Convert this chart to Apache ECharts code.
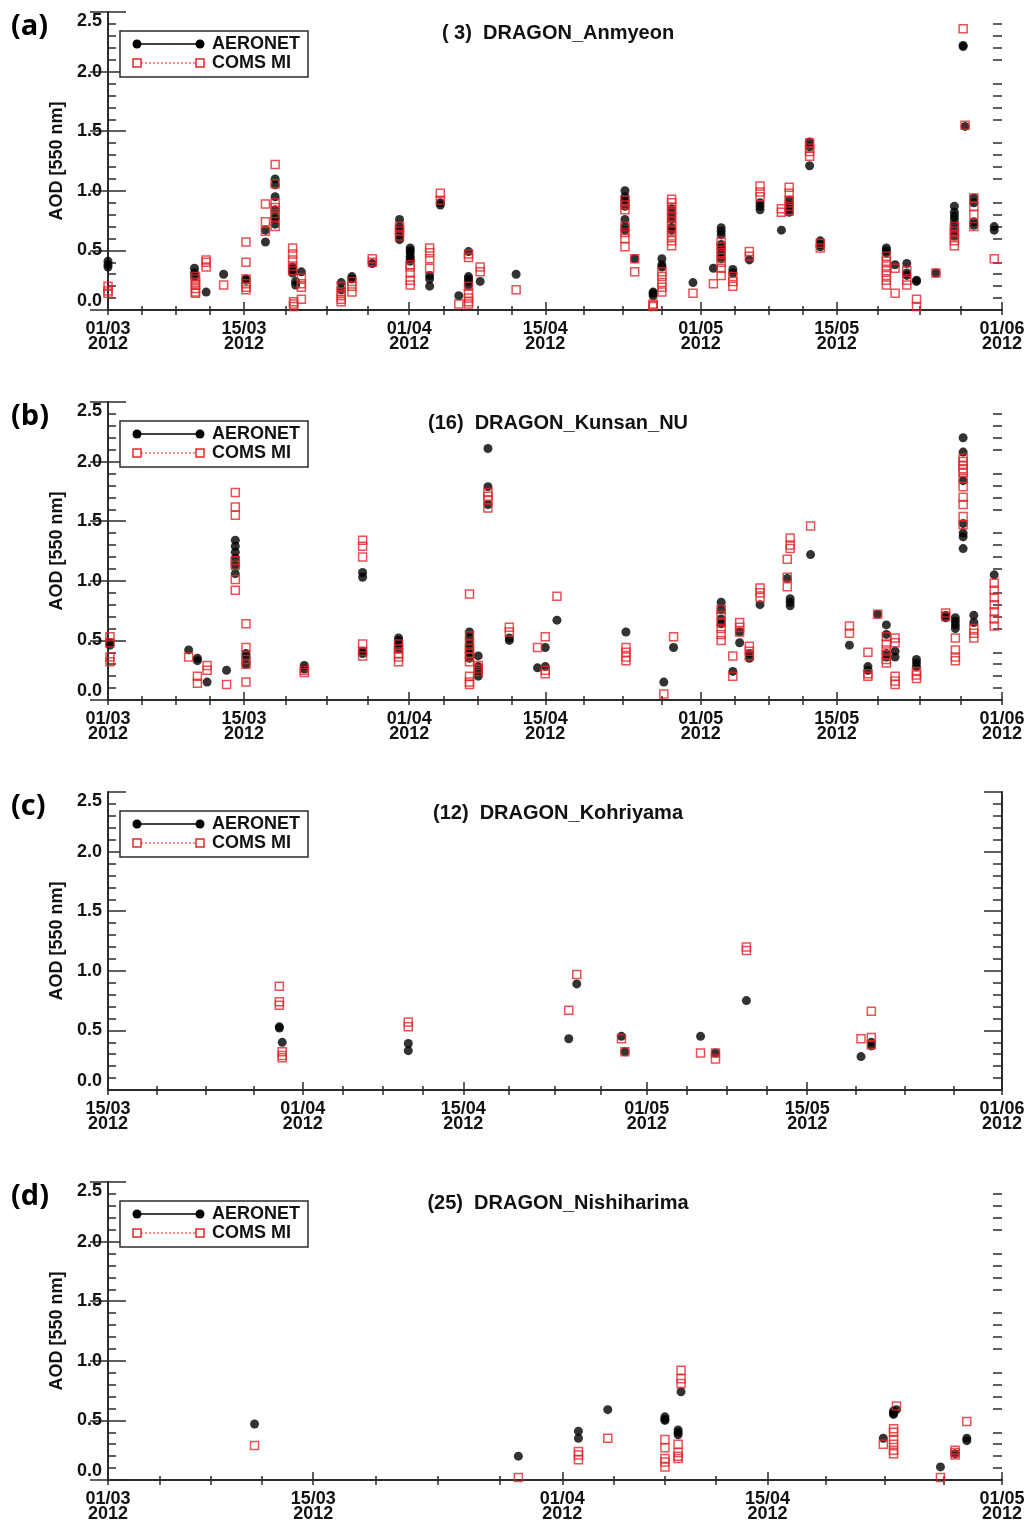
<!DOCTYPE html>
<html>
<head>
<meta charset="utf-8">
<script src="https://cdn.jsdelivr.net/npm/echarts@6/dist/echarts.min.js"></script>
<style>
  html, body { margin: 0; padding: 0; background: #fff; }
  #chart { width: 1030px; height: 1522px; }
</style>
</head>
<body>
<div id="chart"></div>
<script>
// x = days since 01/03/2012, each row = [day, aod, aod, ...]
const dateTicks = [0, 14, 31, 45, 61, 75, 92];
const dateLabels = ['01/03\n2012', '15/03\n2012', '01/04\n2012', '15/04\n2012', '01/05\n2012', '15/05\n2012', '01/06\n2012'];
const aodTicks = [0, 0.5, 1.0, 1.5, 2.0, 2.5];

const anmyeonAeronet = [
  [0.0, 0.41, 0.38, 0.36], [8.9, 0.35, 0.31, 0.28], [10.1, 0.15], [11.9, 0.30], [14.2, 0.26, 0.25],
  [16.2, 0.67, 0.57], [17.2, 1.10, 1.05, 0.95, 0.84, 0.78, 0.76, 0.72], [19.0, 0.36, 0.34, 0.31],
  [19.3, 0.24, 0.21], [19.9, 0.32], [24.0, 0.23, 0.17], [25.1, 0.28, 0.26], [27.2, 0.39],
  [30.0, 0.76, 0.70, 0.67, 0.62, 0.59], [31.1, 0.52, 0.50, 0.48, 0.45, 0.43, 0.41], [33.1, 0.29, 0.26, 0.20],
  [34.2, 0.90, 0.88], [36.1, 0.12], [37.1, 0.49, 0.28, 0.26, 0.24, 0.21], [38.3, 0.24], [42.0, 0.30],
  [53.2, 1.00, 0.95, 0.92, 0.87, 0.76, 0.70, 0.67], [54.2, 0.43], [56.1, 0.15, 0.14, 0.12],
  [57.0, 0.43, 0.38, 0.36], [58.0, 0.85, 0.80, 0.76, 0.69, 0.67], [60.2, 0.23], [62.3, 0.35],
  [63.1, 0.69, 0.66, 0.63, 0.55, 0.52, 0.48, 0.43], [64.3, 0.34, 0.31], [66.0, 0.42], [67.1, 0.90, 0.87, 0.84],
  [69.3, 0.67], [70.1, 0.92, 0.88, 0.85, 0.82], [72.2, 1.41, 1.37, 1.21], [73.3, 0.58, 0.55, 0.53],
  [80.1, 0.52, 0.50, 0.48], [81.0, 0.38], [82.2, 0.39, 0.31, 0.29], [83.2, 0.25, 0.24], [85.2, 0.31],
  [87.1, 0.87, 0.82, 0.79, 0.76, 0.72, 0.67, 0.62], [88.0, 2.22, 2.21], [88.2, 1.54],
  [89.1, 0.94, 0.90, 0.74, 0.71], [91.2, 0.70, 0.67]
];
const anmyeonComs = [
  [0.0, 0.20, 0.16, 0.14], [9.0, 0.28, 0.26, 0.23, 0.21, 0.18, 0.15, 0.14], [10.1, 0.42, 0.40, 0.36],
  [11.9, 0.21], [14.2, 0.57, 0.40, 0.26, 0.22, 0.19, 0.17], [16.2, 0.89, 0.74, 0.66],
  [17.2, 1.22, 1.06, 0.90, 0.86, 0.81, 0.78, 0.70], [19.0, 0.52, 0.47, 0.42, 0.37, 0.33],
  [19.1, 0.07, 0.05, 0.03], [19.9, 0.27, 0.22, 0.19, 0.09], [24.0, 0.20, 0.15, 0.12, 0.09, 0.07],
  [25.1, 0.24, 0.20, 0.15], [27.2, 0.43, 0.40], [30.0, 0.70, 0.66, 0.62], [31.1, 0.38, 0.36, 0.31, 0.25, 0.21],
  [33.1, 0.52, 0.48, 0.43, 0.35], [34.2, 0.98, 0.92], [36.1, 0.05], [37.1, 0.47, 0.44, 0.20, 0.14, 0.10, 0.07, 0.05],
  [38.3, 0.36, 0.32], [42.0, 0.17], [53.2, 0.92, 0.88, 0.84, 0.70, 0.65, 0.60, 0.53], [54.2, 0.43, 0.32],
  [56.1, 0.05, 0.04, 0.03], [57.0, 0.32, 0.28, 0.23, 0.19, 0.15],
  [58.0, 0.93, 0.90, 0.86, 0.82, 0.78, 0.74, 0.70, 0.66, 0.62, 0.58, 0.54], [60.2, 0.14], [62.3, 0.22],
  [63.1, 0.57, 0.53, 0.48, 0.44, 0.40, 0.35, 0.29], [64.3, 0.28, 0.24, 0.20], [66.0, 0.49, 0.45],
  [67.1, 1.04, 0.99, 0.95], [69.3, 0.85, 0.82], [70.1, 1.03, 0.98, 0.92, 0.87, 0.83], [72.2, 1.40, 1.36, 1.33, 1.29],
  [73.3, 0.56, 0.52], [80.1, 0.45, 0.41, 0.37, 0.33, 0.29, 0.25, 0.21], [81.0, 0.35, 0.14], [82.2, 0.33, 0.25, 0.21],
  [83.2, 0.09, 0.03], [85.2, 0.31], [87.1, 0.70, 0.66, 0.62, 0.58, 0.54], [88.0, 2.36], [88.2, 1.55],
  [89.1, 0.94, 0.87, 0.80, 0.70], [91.2, 0.43]
];

const kunsanAeronet = [
  [0.2, 0.48, 0.46], [8.3, 0.42], [9.2, 0.35, 0.33], [10.2, 0.15], [12.2, 0.25],
  [13.1, 1.34, 1.29, 1.24, 1.19, 1.13, 1.06], [14.2, 0.39, 0.36, 0.30], [20.2, 0.29, 0.26],
  [26.2, 1.07, 1.03, 0.41, 0.39], [29.9, 0.52, 0.50, 0.47, 0.43], [37.2, 0.57, 0.52, 0.47, 0.43, 0.40, 0.35],
  [38.1, 0.37, 0.28, 0.24, 0.20], [39.1, 2.11, 1.79, 1.64], [41.3, 0.52, 0.50], [44.2, 0.27], [45.0, 0.44, 0.28],
  [46.2, 0.67], [53.3, 0.57], [57.2, 0.15], [58.2, 0.44], [63.1, 0.82, 0.76, 0.68, 0.64], [64.3, 0.24],
  [65.0, 0.57, 0.48], [66.0, 0.39, 0.35], [67.1, 0.80], [69.9, 1.02], [70.2, 0.85, 0.82, 0.79], [72.3, 1.22],
  [76.3, 0.46], [78.2, 0.28, 0.25], [79.2, 0.72], [80.1, 0.63, 0.55, 0.39, 0.36], [81.0, 0.41, 0.36],
  [83.2, 0.34, 0.31, 0.28], [86.2, 0.71, 0.69], [87.2, 0.69, 0.66, 0.63, 0.60],
  [88.0, 2.20, 2.08, 1.84, 1.48, 1.40, 1.37, 1.27], [89.1, 0.71, 0.65], [91.2, 1.05]
];
const kunsanComs = [
  [0.2, 0.53, 0.48, 0.36, 0.32], [8.3, 0.36], [9.2, 0.20, 0.14], [10.2, 0.29, 0.25], [12.2, 0.13],
  [13.1, 1.74, 1.62, 1.55, 1.17, 1.13, 1.01, 0.92], [14.2, 0.64, 0.44, 0.34, 0.30, 0.15], [20.2, 0.25, 0.23],
  [26.2, 1.34, 1.29, 1.20, 0.47, 0.41, 0.37], [29.9, 0.47, 0.43, 0.39, 0.36, 0.32],
  [37.2, 0.89, 0.54, 0.47, 0.43, 0.39, 0.36, 0.32, 0.20, 0.15, 0.13], [38.1, 0.29, 0.26, 0.24],
  [39.1, 1.74, 1.71, 1.68, 1.61], [41.3, 0.61, 0.57], [44.2, 0.44], [45.0, 0.53, 0.25, 0.22], [46.2, 0.87],
  [53.3, 0.44, 0.40, 0.36, 0.33], [57.2, 0.05], [58.2, 0.53], [63.1, 0.76, 0.71, 0.65, 0.60, 0.55, 0.50],
  [64.3, 0.37, 0.20], [65.0, 0.65, 0.61, 0.57], [66.0, 0.45, 0.41, 0.37], [67.1, 0.94, 0.90, 0.86],
  [69.9, 1.18, 1.03, 0.95], [70.2, 1.36, 1.30, 1.27], [72.3, 1.46], [76.3, 0.62, 0.56], [78.2, 0.40, 0.22, 0.20],
  [79.2, 0.72], [80.1, 0.53, 0.47, 0.42, 0.38, 0.34, 0.31], [81.0, 0.52, 0.48, 0.20, 0.16, 0.13],
  [83.2, 0.24, 0.21, 0.18], [86.2, 0.73, 0.70], [87.2, 0.52, 0.42, 0.36, 0.33],
  [88.0, 2.03, 2.00, 1.97, 1.94, 1.91, 1.86, 1.79, 1.70, 1.64, 1.54, 1.47], [89.1, 0.60, 0.56, 0.52],
  [91.2, 0.98, 0.92, 0.86, 0.80, 0.74, 0.68, 0.62]
];

const kohriyamaAeronet = [
  [28.95, 0.53, 0.52], [29.2, 0.40], [40.2, 0.39, 0.33], [54.2, 0.43], [54.9, 0.89], [58.8, 0.45],
  [59.1, 0.32], [65.7, 0.45], [67.0, 0.31], [69.7, 0.75], [79.7, 0.28], [80.6, 0.40, 0.37]
];
const kohriyamaComs = [
  [28.95, 0.87, 0.74, 0.71], [29.2, 0.32, 0.29, 0.27], [40.2, 0.57, 0.53], [54.2, 0.67], [54.9, 0.97],
  [58.8, 0.43], [59.1, 0.32], [65.7, 0.31], [67.0, 0.31, 0.26], [69.7, 1.20, 1.17], [79.7, 0.43],
  [80.6, 0.66, 0.44, 0.38]
];

const nishiharimaAeronet = [
  [10.0, 0.47], [28.0, 0.20], [32.1, 0.41, 0.35], [34.1, 0.59], [38.0, 0.53, 0.51, 0.50],
  [38.9, 0.42, 0.40, 0.38], [39.1, 0.74], [52.9, 0.35], [53.6, 0.58, 0.56, 0.55], [53.8, 0.59],
  [56.8, 0.11], [57.8, 0.22], [58.6, 0.35, 0.33]
];
const nishiharimaComs = [
  [10.0, 0.29], [28.0, 0.02], [32.1, 0.24, 0.21, 0.17], [34.1, 0.35], [38.0, 0.34, 0.27, 0.18, 0.15, 0.11],
  [38.9, 0.30, 0.23, 0.20, 0.18], [39.1, 0.92, 0.85, 0.81], [52.9, 0.30], [53.6, 0.43, 0.40, 0.34, 0.30, 0.25, 0.22],
  [53.8, 0.62], [56.8, 0.02], [57.8, 0.25, 0.23, 0.21], [58.6, 0.49]
];

const panels = [
  { tag: '(a)', station: '( 3)  DRAGON_Anmyeon', range: [0, 92], aeronet: anmyeonAeronet, coms: anmyeonComs },
  { tag: '(b)', station: '(16)  DRAGON_Kunsan_NU', range: [0, 92], aeronet: kunsanAeronet, coms: kunsanComs },
  { tag: '(c)', station: '(12)  DRAGON_Kohriyama', range: [14, 92], aeronet: kohriyamaAeronet, coms: kohriyamaComs },
  { tag: '(d)', station: '(25)  DRAGON_Nishiharima', range: [0, 61], aeronet: nishiharimaAeronet, coms: nishiharimaComs }
];

const FONT = '"Liberation Sans", Arial, sans-serif';
const AXIS = '#2b2b2b';
const RED = '#e3262a';

function expand(rows) {
  return rows.flatMap(([d, ...vals]) => vals.map(v => [d, v]));
}

// split every gap between given ticks into n parts, return inner points
function subdivide(ticks, n) {
  const out = [];
  for (let k = 0; k < ticks.length - 1; k++) {
    const step = (ticks[k + 1] - ticks[k]) / n;
    for (let m = 1; m < n; m++) out.push(+(ticks[k] + m * step).toFixed(4));
  }
  return out;
}

const aodMinor = subdivide(aodTicks, 5);
const tickLine = { color: AXIS, width: 1.5 };

let grids = [], xAxes = [], yAxes = [], series = [], graphics = [];

panels.forEach((p, i) => {
  const top = i * 390;
  grids.push({ left: 108, top: top + 12, width: 894, height: 298, outerBoundsMode: 'none', containLabel: false });

  const majors = dateTicks.filter(d => d >= p.range[0] && d <= p.range[1]);
  const minors = subdivide(majors, 4);
  const xBase = { gridIndex: i, type: 'value', min: p.range[0], max: p.range[1], splitLine: { show: false } };
  const xi = xAxes.length;
  xAxes.push({
    ...xBase, position: 'bottom',
    axisLine: { show: true, lineStyle: { color: AXIS, width: 2 } },
    axisTick: { show: true, inside: true, length: 8, customValues: majors, lineStyle: tickLine },
    axisLabel: {
      customValues: majors, showMinLabel: true, showMaxLabel: true,
      formatter: v => dateLabels[dateTicks.indexOf(Math.round(v))],
      color: '#111', fontFamily: FONT, fontWeight: 'bold', fontSize: 18, lineHeight: 15, margin: 12
    }
  });
  xAxes.push({
    ...xBase, position: 'bottom', axisLine: { show: false },
    axisTick: { show: true, inside: true, length: 4, customValues: minors, lineStyle: tickLine },
    axisLabel: { show: false }
  });
  xAxes.push({
    ...xBase, position: 'top',
    axisLine: { show: true, lineStyle: { color: AXIS, width: 2 } },
    axisTick: { show: true, inside: true, length: 5, customValues: majors.concat(minors), lineStyle: tickLine },
    axisLabel: { show: false }
  });

  const yBase = {
    gridIndex: i, type: 'value', min: aodTicks[0], max: aodTicks[aodTicks.length - 1], interval: 0.5,
    splitLine: { show: false }
  };
  const yi = yAxes.length;
  yAxes.push({
    ...yBase, position: 'left',
    axisLine: { show: true, lineStyle: { color: AXIS, width: 2 } },
    axisTick: { show: true, inside: true, length: 18, lineStyle: tickLine },
    name: 'AOD [550 nm]', nameLocation: 'middle', nameGap: 42,
    nameTextStyle: { color: '#111', fontFamily: FONT, fontWeight: 'bold', fontSize: 18 },
    axisLabel: {
      formatter: v => v.toFixed(1), showMinLabel: true, showMaxLabel: true,
      verticalAlignMinLabel: 'bottom', verticalAlignMaxLabel: 'top',
      color: '#111', fontFamily: FONT, fontWeight: 'bold', fontSize: 18, margin: 6
    }
  });
  yAxes.push({
    ...yBase, position: 'left', axisLine: { show: false },
    axisTick: { show: true, inside: true, length: 8, customValues: aodMinor, lineStyle: tickLine },
    axisLabel: { show: false }
  });
  yAxes.push({
    ...yBase, position: 'right',
    axisLine: { show: true, lineStyle: { color: AXIS, width: 2 } },
    axisTick: { show: true, inside: true, length: 18, lineStyle: tickLine },
    axisLabel: { show: false }
  });
  yAxes.push({
    ...yBase, position: 'right', axisLine: { show: false },
    axisTick: { show: true, inside: true, length: 9, customValues: aodMinor, lineStyle: tickLine },
    axisLabel: { show: false }
  });

  series.push({
    name: 'AERONET', type: 'scatter', xAxisIndex: xi, yAxisIndex: yi,
    symbol: 'circle', symbolSize: 9, itemStyle: { color: '#000' },
    emphasis: { disabled: true }, data: expand(p.aeronet)
  });
  series.push({
    name: 'COMS MI', type: 'scatter', xAxisIndex: xi, yAxisIndex: yi,
    symbol: 'rect', symbolSize: 8, itemStyle: { color: 'rgba(255,255,255,0)', borderColor: RED, borderWidth: 1.5 },
    emphasis: { disabled: true }, data: expand(p.coms)
  });

  // panel tag, station title and the boxed legend
  graphics.push(
    { type: 'text', x: 11, y: top + 27, style: { text: p.tag, font: 'bold 29px "Open Sans", ' + FONT, fill: '#000', verticalAlign: 'middle' } },
    { type: 'text', x: 558, y: top + 33, style: { text: p.station, font: 'bold 20px ' + FONT, fill: '#111', align: 'center', verticalAlign: 'middle' } },
    { type: 'rect', shape: { x: 120, y: top + 31, width: 188, height: 46 }, style: { fill: '#fff', stroke: AXIS, lineWidth: 1.5 }, z: 10 },
    { type: 'line', shape: { x1: 137, y1: top + 44, x2: 200, y2: top + 44 }, style: { stroke: '#000', lineWidth: 1.5 }, z: 11 },
    { type: 'circle', shape: { cx: 137, cy: top + 44, r: 4.5 }, style: { fill: '#000' }, z: 11 },
    { type: 'circle', shape: { cx: 200, cy: top + 44, r: 4.5 }, style: { fill: '#000' }, z: 11 },
    { type: 'line', shape: { x1: 141, y1: top + 63, x2: 196, y2: top + 63 }, style: { stroke: RED, lineWidth: 1.2, lineDash: [2, 2] }, z: 11 },
    { type: 'rect', shape: { x: 133, y: top + 59, width: 8, height: 8 }, style: { fill: '#fff', stroke: RED, lineWidth: 1.5 }, z: 11 },
    { type: 'rect', shape: { x: 196, y: top + 59, width: 8, height: 8 }, style: { fill: '#fff', stroke: RED, lineWidth: 1.5 }, z: 11 },
    { type: 'text', x: 212, y: top + 44, style: { text: 'AERONET', font: 'bold 18px ' + FONT, fill: '#111', verticalAlign: 'middle' }, z: 11 },
    { type: 'text', x: 212, y: top + 63, style: { text: 'COMS MI', font: 'bold 18px ' + FONT, fill: '#111', verticalAlign: 'middle' }, z: 11 }
  );
});

const chart = echarts.init(document.getElementById('chart'), null, { renderer: 'canvas' });
chart.setOption({
  animation: false,
  backgroundColor: '#fff',
  grid: grids,
  xAxis: xAxes,
  yAxis: yAxes,
  series: series,
  graphic: graphics
});
</script>
</body>
</html>
